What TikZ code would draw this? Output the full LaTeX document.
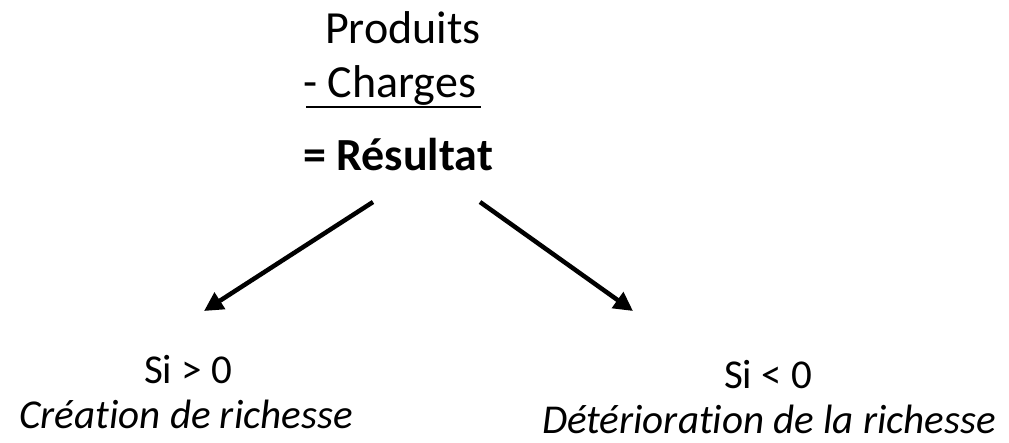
\documentclass[tikz,border=0pt]{standalone}
\usepackage{fontspec}
\setmainfont{Carlito}[Ligatures={NoCommon,NoContextual}]
\usetikzlibrary{arrows.meta}
\begin{document}
\begin{tikzpicture}[x=1pt,y=-1pt,
  big/.style={anchor=base west,inner sep=0pt,font=\fontsize{46}{54}\selectfont},
  small/.style={anchor=base,inner sep=0pt,font=\fontsize{41}{49}\selectfont},
  conn/.style={line width=4.5pt,-{Triangle[length=19pt,width=19pt]}}]
\useasboundingbox (0,0) rectangle (1009,442);
\node[big] (prod) at (325,43) {Produits};
\node[big] (charg) at (303,97) {- Charges};
\draw[line width=2.5pt] (306,107) coordinate (ul1) -- (481,107) coordinate (ul2);
\node[big,font=\fontsize{46}{54}\selectfont\bfseries] (res) at (303,170) {= Résultat};
\node[small] (pos) at (188,383) {Si > 0};
\node[small,font=\fontsize{41}{49}\selectfont\itshape] (crea) at (186,428) {Création de richesse};
\node[small] (neg) at (768,388) {Si < 0};
\node[small,font=\fontsize{41}{49}\selectfont\itshape] (det) at (769,433) {Détérioration de la richesse};
\coordinate (a1s) at (373,202);
\coordinate (a1e) at (204,311);
\coordinate (a2s) at (480,202);
\coordinate (a2e) at (633,311);
\draw[conn] (a1s) -- (a1e);
\draw[conn] (a2s) -- (a2e);
\end{tikzpicture}
\end{document}
